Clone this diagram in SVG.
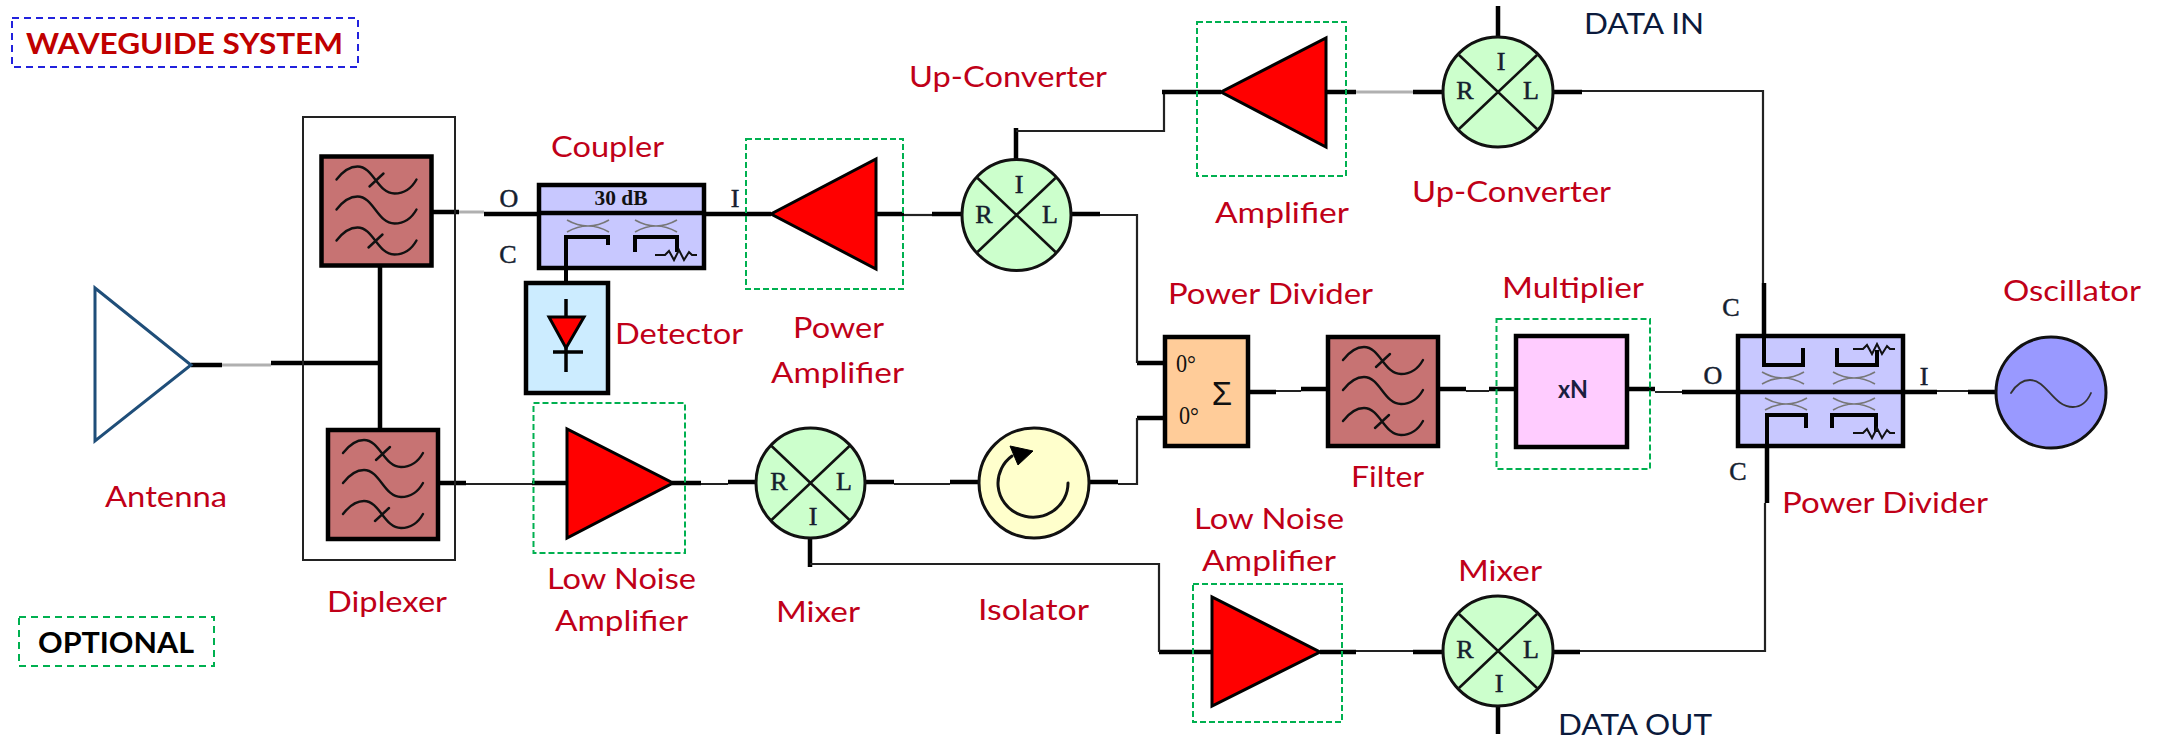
<svg xmlns="http://www.w3.org/2000/svg" width="2165" height="741" viewBox="0 0 2165 741">
<style>
.t{fill:none;stroke:#000;stroke-width:4.5}
.n{fill:none;stroke:#222;stroke-width:2.2}
.g{fill:none;stroke:#b0b0b0;stroke-width:3}
.box{stroke:#000;stroke-width:4.5}
.filt{fill:#C77373;stroke:#000;stroke-width:4.5}
.wave{fill:none;stroke:#111;stroke-width:2.4;stroke-linecap:round}
.mix{fill:#CCFFCC;stroke:#111;stroke-width:3}
.cross{fill:none;stroke:#111;stroke-width:2.6}
.amp{fill:#FF0000;stroke:#000;stroke-width:3;stroke-linejoin:miter}
.opt{fill:none;stroke:#00B050;stroke-width:2;stroke-dasharray:6 3}
.lbl{font-family:Lato,"Liberation Sans",sans-serif;font-size:29px;fill:#C00018}
.dark{font-family:Lato,"Liberation Sans",sans-serif;font-size:29px;fill:#0B1A3C}
.b{font-family:Lato,"Liberation Sans",sans-serif;font-size:29px;font-weight:700}
.port{font-family:"Liberation Serif",serif;font-size:26px;fill:#14202E;stroke:#14202E;stroke-width:.5;text-anchor:middle}
.sm{font-family:"Liberation Serif",serif;font-size:25px;fill:#111}
.xx{fill:none;stroke:#777;stroke-width:1.6}
.res{fill:none;stroke:#111;stroke-width:2}
</style>
<defs>
<g id="fw">
<rect class="filt" x="0" y="0" width="110" height="109"/>
<path class="wave" d="M15 23C22 14 29 10 36 10C52 10 56 37 73 37C83 37 90 32 95 23M48 30L62 17"/>
<path class="wave" d="M15 53C22 44 29 40 36 40C52 40 56 67 73 67C83 67 90 62 95 53"/>
<path class="wave" d="M15 84C22 75 29 71 36 71C52 71 56 98 73 98C83 98 90 93 95 84M47 91L61 78"/>
</g>
<g id="cr">
<path class="cross" d="M-39 -37L39 37M-39 37L39 -37"/>
</g>
<path id="xc" class="xx" d="M0 0C14 8 28 8 42 0M0 12C14 4 28 4 42 12"/>
<path id="rs" class="res" d="M0 0H10L14 -4L19 5L24 -5L29 5L34 -3L37 0H42"/>
</defs>

<g id="connectors">
<path class="t" d="M191 365H222M271 363H380M380 266V428"/>
<path class="g" d="M222 365H271"/>
<path class="t" d="M431 212H459M484 214H538"/>
<path class="g" d="M459 212H484"/>
<path class="t" d="M438 483H466M532 483H567"/>
<path class="n" d="M466 484H532"/>
<path class="t" d="M705 214H771M876 214H904M932 214H962"/>
<path class="n" d="M904 215H932"/>
<path class="t" d="M1016 159V128M1071 214H1100M1137 363H1164"/>
<path class="n" d="M1016 131H1164V92M1100 215H1137V363"/>
<path class="t" d="M1162 92H1221M1326 92H1356M1413 92H1443"/>
<path class="g" d="M1356 92H1413"/>
<path class="t" d="M1498 37V6M1553 92H1582"/>
<path class="n" d="M1582 91H1763V283"/>
<path class="t" d="M1764 283V340"/>
<path class="t" d="M672 483H701M728 482H756M865 482H894M950 482H979M1089 482H1118M1137 418H1164"/>
<path class="n" d="M701 484H728M894 484H950M1118 484H1137V418"/>
<path class="t" d="M1248 392H1276M1301 389H1328M1438 389H1466M1489 389H1516M1627 389H1655M1682 392H1738M1903 392H1937M1968 392H1996"/>
<path class="n" d="M1276 391H1301M1466 391H1489M1655 392H1682M1937 391H1968"/>
<path class="t" d="M810 538V567M1159 652H1212M1320 652H1356M1413 652H1443M1553 652H1580M1498 706V734M1767 446V503"/>
<path class="n" d="M810 564H1159V652M1356 651H1413M1580 651H1765V503"/>
</g>

<g id="legend-waveguide"><rect x="12" y="18" width="346" height="49" fill="none" stroke="#2222DD" stroke-width="2" stroke-dasharray="7 5"/><text class="b" x="26" y="54" fill="#C00000" textLength="317" lengthAdjust="spacingAndGlyphs">WAVEGUIDE SYSTEM</text></g>
<g id="legend-optional"><rect class="opt" style="stroke-dasharray:7 5" x="19" y="617" width="195" height="49"/><text class="b" x="38" y="653" fill="#000" textLength="156" lengthAdjust="spacingAndGlyphs">OPTIONAL</text></g>

<g id="antenna"><path d="M95 288L191 365L95 441Z" fill="#fff" stroke="#1F4E79" stroke-width="3"/><text class="lbl" x="105" y="507" textLength="122" lengthAdjust="spacingAndGlyphs">Antenna</text></g>

<g id="diplexer">
<rect x="303" y="117" width="152" height="443" fill="none" stroke="#222" stroke-width="2"/>
<use href="#fw" x="321.500" y="156.500"/>
<use href="#fw" x="328" y="430"/>
<text class="lbl" x="327" y="612" textLength="120" lengthAdjust="spacingAndGlyphs">Diplexer</text>
</g>

<g id="coupler">
<rect class="box" x="539" y="185" width="165" height="83" fill="#C8C8FF"/>
<path class="t" d="M539 213H704"/>
<text x="621" y="205" text-anchor="middle" font-family="'Liberation Serif',serif" font-size="20" font-weight="700" fill="#111" textLength="53" lengthAdjust="spacingAndGlyphs">30 dB</text>
<use href="#xc" x="567" y="220"/><use href="#xc" x="635" y="220"/>
<path class="t" style="stroke-width:4" d="M566 283V237H608V245M635 252V237H677V252"/>
<use href="#rs" x="655" y="255"/>
<text class="port" x="509" y="207">O</text>
<text class="port" x="508" y="263">C</text>
<text class="port" x="735" y="207">I</text>
<text class="lbl" x="551" y="157" textLength="113" lengthAdjust="spacingAndGlyphs">Coupler</text>
</g>

<g id="detector">
<rect class="box" x="526" y="283" width="82" height="110" fill="#CCECFF"/>
<path class="t" style="stroke-width:3.500" d="M566 299V372M553 352H583"/>
<path class="amp" d="M549 317H584L566 348Z"/>
<text class="lbl" x="615" y="344" textLength="128" lengthAdjust="spacingAndGlyphs">Detector</text>
</g>

<g id="power-amplifier">
<path class="amp" d="M876 159V269L771 214Z"/>
<rect class="opt" x="746" y="139" width="157" height="150"/>
<text class="lbl" x="793" y="338" textLength="91" lengthAdjust="spacingAndGlyphs">Power</text>
<text class="lbl" x="771" y="383" textLength="133" lengthAdjust="spacingAndGlyphs">Amplifier</text>
</g>

<g id="up-converter-1">
<ellipse class="mix" cx="1016.500" cy="215" rx="54.500" ry="55.500"/>
<use href="#cr" x="1016.500" y="215"/>
<text class="port" x="1019" y="193">I</text><text class="port" x="984" y="223">R</text><text class="port" x="1050" y="223">L</text>
<text class="lbl" x="909" y="87" textLength="198" lengthAdjust="spacingAndGlyphs">Up-Converter</text>
</g>

<g id="amplifier">
<path class="amp" d="M1326 38V147L1221 92Z"/>
<rect class="opt" x="1197" y="22" width="149" height="154"/>
<text class="lbl" x="1215" y="223" textLength="134" lengthAdjust="spacingAndGlyphs">Amplifier</text>
</g>

<g id="up-converter-2">
<ellipse class="mix" cx="1498" cy="92" rx="55" ry="55"/>
<use href="#cr" x="1498" y="92"/>
<text class="port" x="1501" y="70">I</text><text class="port" x="1465" y="99">R</text><text class="port" x="1531" y="99">L</text>
<text class="lbl" x="1412" y="202" textLength="199" lengthAdjust="spacingAndGlyphs">Up-Converter</text>
<text class="dark" x="1584" y="34" textLength="120" lengthAdjust="spacingAndGlyphs">DATA IN</text>
</g>

<g id="lna-1">
<path class="amp" d="M567 429V538L673 483Z"/>
<rect class="opt" x="533.500" y="403" width="151.500" height="150"/>
<text class="lbl" x="547" y="589" textLength="149" lengthAdjust="spacingAndGlyphs">Low Noise</text>
<text class="lbl" x="555" y="631" textLength="133" lengthAdjust="spacingAndGlyphs">Amplifier</text>
</g>

<g id="mixer-1">
<ellipse class="mix" cx="810.500" cy="483" rx="54.500" ry="55"/>
<use href="#cr" x="810.500" y="483"/>
<text class="port" x="779" y="490">R</text><text class="port" x="844" y="490">L</text><text class="port" x="813" y="525">I</text>
<text class="lbl" x="776" y="622" textLength="84" lengthAdjust="spacingAndGlyphs">Mixer</text>
</g>

<g id="isolator">
<ellipse class="mix" style="fill:#FFFFCC" cx="1034" cy="483" rx="55" ry="55"/>
<path class="wave" style="stroke-width:3" d="M1068 483A35 34 0 1 1 1012 456"/>
<path d="M1010 446L1033 451L1018 465Z" fill="#000" stroke="#000" stroke-width="1"/>
<text class="lbl" x="978" y="620" textLength="111" lengthAdjust="spacingAndGlyphs">Isolator</text>
</g>

<g id="power-divider-1">
<rect class="box" x="1165" y="337" width="83" height="109" fill="#FFCC99"/>
<text class="sm" x="1176" y="372" textLength="20" lengthAdjust="spacingAndGlyphs">0°</text>
<text class="sm" x="1179" y="424" textLength="20" lengthAdjust="spacingAndGlyphs">0°</text>
<text x="1222" y="405" text-anchor="middle" font-family="'Liberation Sans',sans-serif" font-size="33" fill="#111">Σ</text>
<text class="lbl" x="1168" y="304" textLength="205" lengthAdjust="spacingAndGlyphs">Power Divider</text>
</g>

<g id="filter">
<use href="#fw" x="1328" y="337"/>
<text class="lbl" x="1351" y="487" textLength="73" lengthAdjust="spacingAndGlyphs">Filter</text>
</g>

<g id="multiplier">
<rect class="box" x="1516" y="336" width="111" height="111" fill="#FFCCFF"/>
<rect class="opt" x="1496.500" y="319" width="153.500" height="150"/>
<text x="1558" y="398" font-family="Lato,'Liberation Sans',sans-serif" font-size="24" font-weight="700" fill="#1A2040" textLength="30" lengthAdjust="spacingAndGlyphs">xN</text>
<text class="lbl" x="1502" y="298" textLength="142" lengthAdjust="spacingAndGlyphs">Multiplier</text>
</g>

<g id="power-divider-2">
<rect class="box" x="1738" y="336" width="165" height="110" fill="#C8C8FF"/>
<path class="t" d="M1738 392H1903"/>
<use href="#xc" x="1762" y="372"/><use href="#xc" x="1833" y="372"/>
<use href="#xc" x="1765" y="398"/><use href="#xc" x="1833" y="398"/>
<path class="t" style="stroke-width:4" d="M1764 336V365H1803V348M1837 348V365H1877V350M1767 446V415H1806V428M1832 428V415H1876V432"/>
<use href="#rs" x="1853" y="349"/><use href="#rs" x="1853" y="433"/>
<text class="port" x="1713" y="384">O</text>
<text class="port" x="1731" y="316">C</text>
<text class="port" x="1738" y="480">C</text>
<text class="port" x="1924" y="385">I</text>
<text class="lbl" x="1782" y="513" textLength="206" lengthAdjust="spacingAndGlyphs">Power Divider</text>
</g>

<g id="oscillator">
<ellipse class="mix" style="fill:#9999FF" cx="2051" cy="392.500" rx="55" ry="55.500"/>
<path fill="none" stroke="#333" stroke-width="1.800" stroke-linecap="round" d="M2011 393C2016 385 2022 380 2030 380C2047 380 2053 407 2073 407C2081 407 2087 402 2091 393"/>
<text class="lbl" x="2003" y="301" textLength="138" lengthAdjust="spacingAndGlyphs">Oscillator</text>
</g>

<g id="lna-2">
<path class="amp" d="M1212 597V706L1320 652Z"/>
<rect class="opt" x="1193" y="584" width="149" height="138"/>
<text class="lbl" x="1194" y="529" textLength="150" lengthAdjust="spacingAndGlyphs">Low Noise</text>
<text class="lbl" x="1202" y="571" textLength="134" lengthAdjust="spacingAndGlyphs">Amplifier</text>
</g>

<g id="mixer-2">
<ellipse class="mix" cx="1498" cy="651" rx="55" ry="55"/>
<use href="#cr" x="1498" y="651"/>
<text class="port" x="1465" y="658">R</text><text class="port" x="1531" y="658">L</text><text class="port" x="1499" y="692">I</text>
<text class="lbl" x="1458" y="581" textLength="84" lengthAdjust="spacingAndGlyphs">Mixer</text>
<text class="dark" x="1558" y="735" textLength="154" lengthAdjust="spacingAndGlyphs">DATA OUT</text>
</g>
</svg>
